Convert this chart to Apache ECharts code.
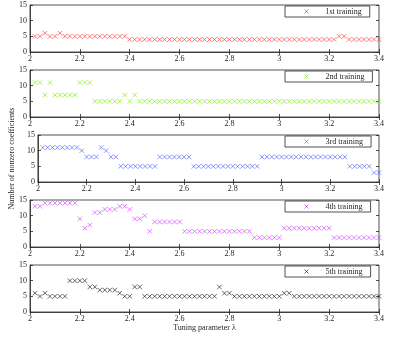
<!DOCTYPE html>
<html>
<head>
<meta charset="utf-8">
<script src="https://cdn.jsdelivr.net/npm/echarts@6/dist/echarts.min.js"></script>
<style>
  html, body { margin: 0; padding: 0; background: #fff; }
  #main { width: 394px; height: 339px; }
</style>
</head>
<body>
<div id="main"></div>
<script>
// tuning parameter values (x)
const lambda = [
  2.02, 2.04, 2.06, 2.08, 2.10, 2.12, 2.14, 2.16, 2.18, 2.20,
  2.22, 2.24, 2.26, 2.28, 2.30, 2.32, 2.34, 2.36, 2.38, 2.40,
  2.42, 2.44, 2.46, 2.48, 2.50, 2.52, 2.54, 2.56, 2.58, 2.60,
  2.62, 2.64, 2.66, 2.68, 2.70, 2.72, 2.74, 2.76, 2.78, 2.80,
  2.82, 2.84, 2.86, 2.88, 2.90, 2.92, 2.94, 2.96, 2.98, 3.00,
  3.02, 3.04, 3.06, 3.08, 3.10, 3.12, 3.14, 3.16, 3.18, 3.20,
  3.22, 3.24, 3.26, 3.28, 3.30, 3.32, 3.34, 3.36, 3.38, 3.40
];

// number of nonzero coefficients, one array per training run
const run1 = [
  5, 5, 6, 5, 5, 6, 5, 5, 5, 5,
  5, 5, 5, 5, 5, 5, 5, 5, 5, 4,
  4, 4, 4, 4, 4, 4, 4, 4, 4, 4,
  4, 4, 4, 4, 4, 4, 4, 4, 4, 4,
  4, 4, 4, 4, 4, 4, 4, 4, 4, 4,
  4, 4, 4, 4, 4, 4, 4, 4, 4, 4,
  4, 5, 5, 4, 4, 4, 4, 4, 4, 4
];
const run2 = [
  11, 11, 7, 11, 7, 7, 7, 7, 7, 11,
  11, 11, 5, 5, 5, 5, 5, 5, 7, 5,
  7, 5, 5, 5, 5, 5, 5, 5, 5, 5,
  5, 5, 5, 5, 5, 5, 5, 5, 5, 5,
  5, 5, 5, 5, 5, 5, 5, 5, 5, 5,
  5, 5, 5, 5, 5, 5, 5, 5, 5, 5,
  5, 5, 5, 5, 5, 5, 5, 5, 5, 5
];
const run3 = [
  11, 11, 11, 11, 11, 11, 11, 11, 10, 8,
  8, 8, 11, 10, 8, 8, 5, 5, 5, 5,
  5, 5, 5, 5, 8, 8, 8, 8, 8, 8,
  8, 5, 5, 5, 5, 5, 5, 5, 5, 5,
  5, 5, 5, 5, 5, 8, 8, 8, 8, 8,
  8, 8, 8, 8, 8, 8, 8, 8, 8, 8,
  8, 8, 8, 5, 5, 5, 5, 5, 3, 3
];
const run4 = [
  13, 13, 14, 14, 14, 14, 14, 14, 14, 9,
  6, 7, 11, 11, 12, 12, 12, 13, 13, 12,
  9, 9, 10, 5, 8, 8, 8, 8, 8, 8,
  5, 5, 5, 5, 5, 5, 5, 5, 5, 5,
  5, 5, 5, 5, 3, 3, 3, 3, 3, 3,
  6, 6, 6, 6, 6, 6, 6, 6, 6, 6,
  3, 3, 3, 3, 3, 3, 3, 3, 3, 3
];
const run5 = [
  6, 5, 6, 5, 5, 5, 5, 10, 10, 10,
  10, 8, 8, 7, 7, 7, 7, 6, 5, 5,
  8, 8, 5, 5, 5, 5, 5, 5, 5, 5,
  5, 5, 5, 5, 5, 5, 5, 8, 6, 6,
  5, 5, 5, 5, 5, 5, 5, 5, 5, 5,
  6, 6, 5, 5, 5, 5, 5, 5, 5, 5,
  5, 5, 5, 5, 5, 5, 5, 5, 5, 5
];

const runs = [run1, run2, run3, run4, run5];
const runNames = ['1st training', '2nd training', '3rd training', '4th training', '5th training'];
const runColors = ['#ff3030', '#77ee00', '#4a5cff', '#cc3cff', '#111111'];

const chartDom = document.getElementById('main');
const myChart = echarts.init(chartDom);

const FONT = 'Liberation Serif';
const AXIS_COLOR = '#262626';
const crossPath = 'path://M0,0L10,10M10,0L0,10';

const grids = [];
const xAxes = [];
const yAxes = [];
const legends = [];
const series = [];

runs.forEach(function (vals, k) {
  const top = 5 + 65 * k;
  grids.push({
    left: 30, width: 349, top: top, height: 47,
    show: true, borderColor: AXIS_COLOR, borderWidth: 0.8, backgroundColor: '#fff'
  });

  // bottom x axis with labels
  xAxes.push({
    type: 'value', gridIndex: k, min: 2, max: 3.4, interval: 0.2,
    position: 'bottom',
    axisLine: { lineStyle: { color: AXIS_COLOR, width: 0.8 } },
    axisTick: { inside: true, length: 3, lineStyle: { color: AXIS_COLOR, width: 0.8 } },
    axisLabel: {
      color: AXIS_COLOR, fontFamily: FONT, fontSize: 8, margin: 3,
      formatter: function (v) { return String(parseFloat(v.toFixed(1))); }
    },
    splitLine: { show: false },
    name: k === 4 ? 'Tuning parameter λ' : '',
    nameLocation: 'middle', nameGap: 11,
    nameTextStyle: { color: AXIS_COLOR, fontFamily: FONT, fontSize: 8 }
  });
  // top x axis, ticks only
  xAxes.push({
    type: 'value', gridIndex: k, min: 2, max: 3.4, interval: 0.2,
    position: 'top',
    axisLine: { show: false },
    axisTick: { inside: true, length: 3, lineStyle: { color: AXIS_COLOR, width: 0.8 } },
    axisLabel: { show: false },
    splitLine: { show: false }
  });

  // left y axis with labels
  yAxes.push({
    type: 'value', gridIndex: k, min: 0, max: 15, interval: 5,
    position: 'left',
    axisLine: { show: true, lineStyle: { color: AXIS_COLOR, width: 0.8 } },
    axisTick: { show: true, inside: true, length: 3, lineStyle: { color: AXIS_COLOR, width: 0.8 } },
    axisLabel: { color: AXIS_COLOR, fontFamily: FONT, fontSize: 8, margin: 3 },
    splitLine: { show: false },
    name: k === 2 ? 'Number of nonzero coefficients' : '',
    nameLocation: 'middle', nameGap: 17,
    nameTextStyle: { color: AXIS_COLOR, fontFamily: FONT, fontSize: 8 }
  });
  // right y axis, ticks only
  yAxes.push({
    type: 'value', gridIndex: k, min: 0, max: 15, interval: 5,
    position: 'right',
    axisLine: { show: false },
    axisTick: { show: true, inside: true, length: 3, lineStyle: { color: AXIS_COLOR, width: 0.8 } },
    axisLabel: { show: false },
    splitLine: { show: false }
  });

  legends.push({
    data: [runNames[k]],
    left: 285, top: top + 1,
    orient: 'vertical',
    padding: [1, 8, 1, 17],
    itemWidth: 4, itemHeight: 4,
    itemStyle: { color: 'none', borderColor: runColors[k], borderWidth: 0.8 },
    borderColor: AXIS_COLOR, borderWidth: 0.8,
    backgroundColor: '#fff',
    selectedMode: false,
    textStyle: { color: AXIS_COLOR, fontFamily: FONT, fontSize: 8, padding: [0, 0, 0, 12] }
  });

  series.push({
    name: runNames[k],
    type: 'scatter',
    xAxisIndex: 2 * k,
    yAxisIndex: 2 * k,
    symbol: crossPath,
    symbolSize: 4.5,
    itemStyle: { color: 'none', borderColor: runColors[k], borderWidth: 0.8 },
    data: lambda.map(function (x, i) { return [x, vals[i]]; }),
    silent: true
  });
});

const option = {
  backgroundColor: '#fff',
  animation: false,
  grid: grids,
  xAxis: xAxes,
  yAxis: yAxes,
  legend: legends,
  series: series
};

myChart.setOption(option);
</script>
</body>
</html>
